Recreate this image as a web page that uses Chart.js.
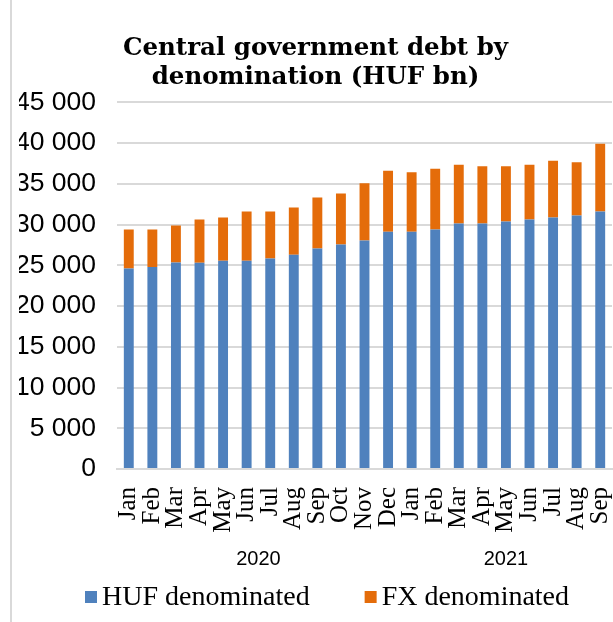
<!DOCTYPE html>
<html>
<head>
<meta charset="utf-8">
<script src="https://cdn.jsdelivr.net/npm/chart.js@4"></script>
<style>
  body { margin: 0; background: #fff; overflow: hidden; }
  #wrap { width: 631px; height: 622px; position: relative; }
</style>
</head>
<body>
<div id="wrap"><canvas id="debtChart"></canvas></div>
<script>
// month labels, two years
const months = ['Jan', 'Feb', 'Mar', 'Apr', 'May', 'Jun', 'Jul', 'Aug', 'Sep', 'Oct', 'Nov', 'Dec',
                'Jan', 'Feb', 'Mar', 'Apr', 'May', 'Jun', 'Jul', 'Aug', 'Sep'];
const years = ['2020', '2021'];
const yearStart = [0, 12];
const yearEnd = [11, 20];

// HUF bn
const hufDenominated = [24600, 24800, 25330, 25300, 25570, 25570, 25820, 26310, 27050, 27540, 28030, 29130,
                        29130, 29390, 30120, 30120, 30370, 30610, 30860, 31100, 31590];
const fxDenominated = [4790, 4590, 4550, 5310, 5290, 6020, 5770, 5770, 6260, 6260, 7040, 7480,
                       7280, 7470, 7230, 7030, 6780, 6740, 6980, 6540, 8340];

const seriesNames = ['HUF denominated', 'FX denominated'];
const seriesColors = ['#4f81bd', '#e46c0a'];

const yTicks = [0, 5000, 10000, 15000, 20000, 25000, 30000, 35000, 40000, 45000];

function fmtThousands(v) {
    return String(v).replace(/\B(?=(\d{3})+(?!\d))/g, ' ');
}

// year captions, legend and the left frame line
const extras = {
    id: 'extras',
    afterDraw(chart) {
        const ctx = chart.ctx;
        const x = chart.scales.x;
        ctx.save();
        ctx.font = '20px "Liberation Sans", Arial, sans-serif';
        ctx.fillStyle = '#000';
        ctx.textAlign = 'center';
        ctx.textBaseline = 'middle';
        years.forEach((y, i) => {
            const cx = (x.getPixelForValue(yearStart[i]) + x.getPixelForValue(yearEnd[i])) / 2;
            ctx.fillText(y, cx, x.bottom - 4);
        });

        // legend
        ctx.font = '28px "Liberation Serif", "Times New Roman", serif';
        ctx.textAlign = 'left';
        let lx = 85;
        const ly = 597;
        seriesNames.forEach((name, i) => {
            ctx.fillStyle = seriesColors[i];
            ctx.fillRect(lx, ly - 6, 12, 12);
            ctx.fillStyle = '#000';
            ctx.fillText(name, lx + 17, ly + 1);
            lx += 17 + ctx.measureText(name).width + 55;
        });

        ctx.strokeStyle = '#d9d9d9';
        ctx.lineWidth = 2;
        ctx.beginPath();
        ctx.moveTo(11, 0);
        ctx.lineTo(11, chart.height);
        ctx.stroke();
        ctx.restore();
    }
};

const ctx = document.getElementById('debtChart').getContext('2d');

const debtChart = new Chart(ctx, {
    type: 'bar',
    data: {
        labels: months,
        datasets: seriesNames.map((name, i) => ({
            label: name,
            data: i === 0 ? hufDenominated : fxDenominated,
            backgroundColor: seriesColors[i],
            barPercentage: 0.42,
            categoryPercentage: 1.0
        }))
    },
    options: {
        responsive: true,
        maintainAspectRatio: false,
        animation: false,
        layout: {
            padding: { left: 19, right: 19, top: 35, bottom: 59 }
        },
        plugins: {
            title: {
                display: true,
                text: ['Central government debt by', 'denomination (HUF bn)'],
                color: '#000',
                font: { family: '"DejaVu Serif", serif', size: 24.5, weight: 'bold', lineHeight: 1.15 },
                padding: { top: 0, bottom: 11 }
            },
            legend: { display: false },
            tooltip: { enabled: false }
        },
        scales: {
            x: {
                stacked: true,
                grid: { display: false },
                border: { display: true, color: '#d9d9d9', width: 2 },
                ticks: {
                    color: '#000',
                    minRotation: 90,
                    maxRotation: 90,
                    autoSkip: false,
                    padding: 10,
                    font: { family: '"Liberation Serif", "Times New Roman", serif', size: 25 }
                },
                afterFit: function (scale) {
                    scale.height = 94;
                    scale.paddingRight = 0;
                    scale.paddingLeft = 0;
                }
            },
            y: {
                stacked: true,
                min: 0,
                max: 45000,
                border: { display: false },
                grid: { color: '#d9d9d9', lineWidth: 2, drawTicks: false },
                afterBuildTicks: function (scale) {
                    scale.ticks = yTicks.map(v => ({ value: v }));
                },
                afterFit: function (scale) {
                    scale.width = 98;
                },
                ticks: {
                    color: '#000',
                    padding: 21,
                    font: { family: '"Liberation Sans", Arial, sans-serif', size: 26.5 },
                    callback: function (value) {
                        return fmtThousands(value);
                    }
                }
            }
        }
    },
    plugins: [extras]
});
</script>
</body>
</html>
